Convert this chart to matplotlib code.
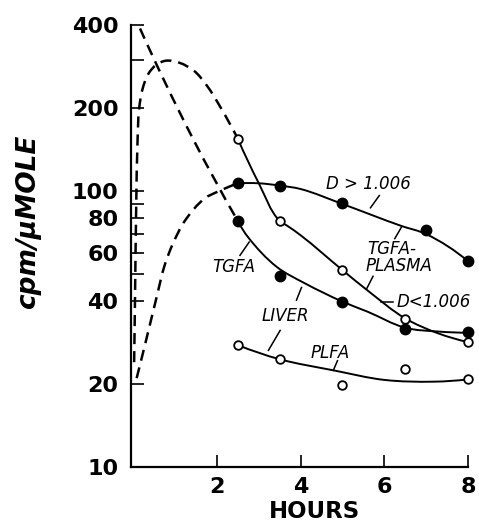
import numpy as np
import matplotlib
matplotlib.use("Agg")
import matplotlib.pyplot as plt
from matplotlib.path import Path
from matplotlib.patches import PathPatch
from matplotlib.ticker import FixedLocator, NullFormatter

plt.rcParams["font.family"] = ["DejaVu Sans"]
plt.rcParams["lines.scale_dashes"] = False

# measured points: hours after injection, cpm / umole
pts_hours = [2.5, 3.5, 5.0, 6.5, 8.0]
d_gt_hours = [2.5, 3.5, 5.0, 7.0, 8.0]
d_gt_vals = [107, 105, 90.5, 72.5, 55.8]          # TGFA plasma D > 1.006 (filled)
d_lt_vals = [155, 78, 51.8, 34.5, 28.4]           # TGFA plasma D < 1.006 (open)
liver_tgfa_vals = [78, 49.3, 39.8, 31.8, 30.8]    # TGFA liver (filled)
liver_plfa_vals = [27.7, 24.6, 19.9, 22.6, 20.8]  # PLFA liver (open)

# hand-drawn fitted curves
d_gt_curve_x = [2.5, 3.0, 3.5, 4.0, 5.0, 6.4, 7.0, 8.0]
d_gt_curve_y = [107, 107, 105, 102, 90, 75, 70, 55.8]
d_lt_curve_x = [2.5, 3.0, 3.5, 3.67, 4.0, 5.0, 5.6, 6.5, 7.3, 8.0]
d_lt_curve_y = [155, 107, 78, 75.2, 69.3, 51.8, 43.7, 34.6, 30.5, 28.4]
tgfa_curve_x = [2.5, 2.75, 3.43, 4.1, 5.0, 5.6, 6.5, 7.3, 8.0]
tgfa_curve_y = [78, 68, 53.2, 46.4, 39.8, 36.6, 32, 31, 30.7]
plfa_curve_x = [2.5, 3.5, 4.8, 6.0, 7.2, 8.0]
plfa_curve_y = [27.7, 24.6, 22.4, 20.7, 20.4, 20.8]

# dashed early-time extrapolations
d_lt_dash_x = [0.02, 0.04, 0.07, 0.10, 0.14, 0.22, 0.36, 0.55, 0.78, 1.1, 1.45, 1.75, 2.1, 2.5]
d_lt_dash_y = [24, 40, 90, 150, 200, 235, 267, 288, 298, 293, 274, 243, 200, 155]
d_gt_dash_x = [0.08, 0.3, 0.55, 0.75, 0.95, 1.24, 1.71, 2.0, 2.5]
d_gt_dash_y = [21, 28.6, 40.9, 54, 64.8, 78.5, 94.4, 99.5, 107]
liver_dash_x = [0.16, 1.4, 2.5]
liver_dash_y = [390, 158, 78]

y_ticks = [10, 20, 40, 60, 80, 100, 200, 400]
y_minor = [50, 70, 90, 300]
x_ticks = [2, 4, 6, 8]

# rough pixels per hour / per decade, only used to keep the smoothing isotropic
SCALE = np.array([41.85, 276.0])


def smooth_path(xs, ys):
    # cubic bezier through the traced points in (x, log y), tangents from
    # the bisector of neighbouring chords, handles = chord / 3
    p = np.column_stack([xs, np.log10(ys)]) * SCALE
    n = len(p)
    unit = lambda v: v / np.linalg.norm(v)
    tang = np.zeros_like(p)
    for i in range(1, n - 1):
        tang[i] = unit(unit(p[i] - p[i - 1]) + unit(p[i + 1] - p[i]))
    if n > 2:
        tang[0] = unit(2 * unit(p[1] - p[0]) - tang[1])
        tang[-1] = unit(2 * unit(p[-1] - p[-2]) - tang[-2])
    else:
        tang[0] = tang[-1] = unit(p[1] - p[0])
    verts = [p[0]]
    codes = [Path.MOVETO]
    for i in range(n - 1):
        L = np.linalg.norm(p[i + 1] - p[i])
        verts += [p[i] + tang[i] * L / 3, p[i + 1] - tang[i + 1] * L / 3, p[i + 1]]
        codes += [Path.CURVE4] * 3
    verts = np.array(verts) / SCALE
    verts[:, 1] = 10 ** verts[:, 1]
    return Path(verts, codes)


fig = plt.figure(figsize=(4.79, 5.24), dpi=100)
ax = fig.add_axes([0.2735, 0.1088, 0.7035, 0.8426])
ax.set_yscale("log")
ax.set_xlim(-0.055, 8.0)
ax.set_ylim(10, 400)

solid = dict(fill=False, ec="black", lw=1.4, clip_on=False)
dashed = dict(fill=False, ec="black", lw=1.8, ls=(0, (8, 5)), clip_on=False)

for cx, cy in [(d_gt_curve_x, d_gt_curve_y), (d_lt_curve_x, d_lt_curve_y),
               (tgfa_curve_x, tgfa_curve_y), (plfa_curve_x, plfa_curve_y)]:
    ax.add_patch(PathPatch(smooth_path(cx, cy), **solid))
for cx, cy in [(d_lt_dash_x, d_lt_dash_y), (d_gt_dash_x, d_gt_dash_y),
               (liver_dash_x, liver_dash_y)]:
    ax.add_patch(PathPatch(smooth_path(cx, cy), **dashed))

filled = dict(ls="none", marker="o", ms=7.5, mfc="black", mec="black", clip_on=False, zorder=4)
hollow = dict(ls="none", marker="o", ms=6.2, mfc="white", mec="black", mew=1.3, clip_on=False, zorder=4)
ax.plot(d_gt_hours, d_gt_vals, **filled)
ax.plot(pts_hours, liver_tgfa_vals, **filled)
ax.plot(pts_hours, d_lt_vals, **hollow)
ax.plot(pts_hours, liver_plfa_vals, **hollow)

# curve labels with short leader strokes
lab = dict(fontsize=12, fontstyle="italic", ha="center", va="center")
ax.text(5.62, 106, "D > 1.006", **lab)
ax.text(6.18, 62, "TGFA-", **lab)
ax.text(6.35, 53.6, "PLASMA", **lab)
ax.text(7.17, 39.6, "D<1.006", **lab)
ax.text(2.41, 53.2, "TGFA", **lab)
ax.text(3.64, 35.3, "LIVER", **lab)
ax.text(4.70, 26.0, "PLFA", **lab)

leaders = [
    ([5.88, 5.67], [96.6, 87.2]),
    ([6.41, 6.25], [74.2, 67.4]),
    ([5.73, 5.58], [49.2, 44.4]),
    ([5.93, 6.21], [39.8, 39.8]),
    ([2.55, 2.77], [58.6, 65.5]),
    ([3.90, 4.02], [40.3, 44.8]),
    ([3.51, 3.23], [31.3, 26.5]),
    ([4.88, 4.78], [24.3, 22.4]),
]
for lx, ly in leaders:
    ax.plot(lx, ly, color="black", lw=1.1)

ax.yaxis.set_major_locator(FixedLocator(y_ticks))
ax.yaxis.set_minor_locator(FixedLocator(y_minor))
ax.yaxis.set_minor_formatter(NullFormatter())
ax.set_yticklabels([str(t) for t in y_ticks], fontsize=16, fontweight="bold")
ax.set_xticks(x_ticks)
ax.set_xticklabels([str(t) for t in x_ticks], fontsize=16, fontweight="bold")
ax.tick_params(which="both", direction="in", length=9, width=1.2)
ax.tick_params(axis="y", pad=9)
ax.tick_params(axis="x", pad=7)

for side in ["top", "right"]:
    ax.spines[side].set_visible(False)
for side in ["left", "bottom"]:
    ax.spines[side].set_linewidth(1.6)

ax.set_xlabel("HOURS", fontsize=16.5, fontweight="bold", va="center")
ax.xaxis.set_label_coords(0.546, -0.10)
ax.set_ylabel("cpm/\u03bcMOLE", fontsize=19, fontweight="bold", fontstyle="italic", va="center")
ax.yaxis.set_label_coords(-0.306, 0.555)

fig.savefig("out.png", dpi=100)
